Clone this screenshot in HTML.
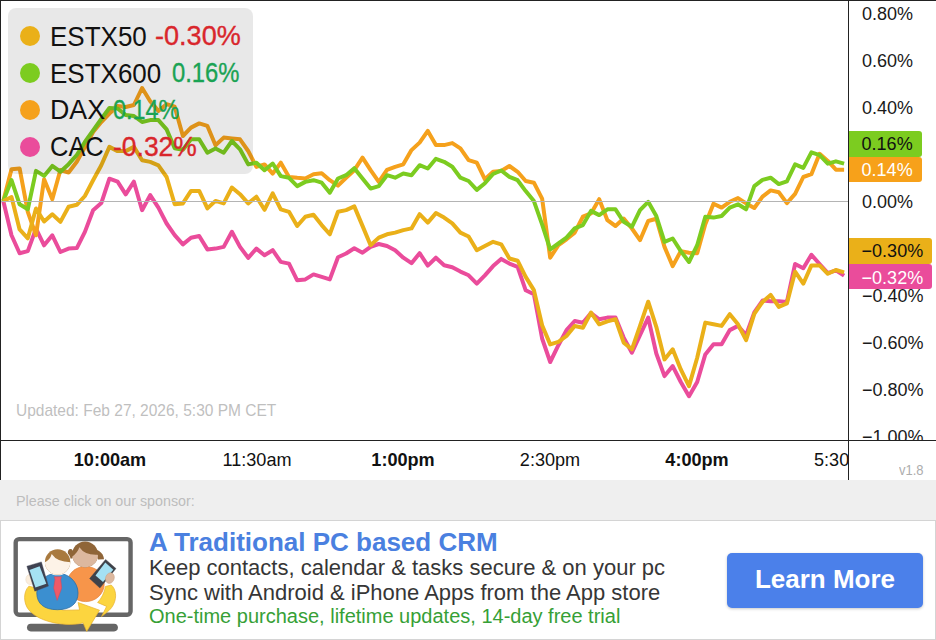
<!DOCTYPE html>
<html>
<head>
<meta charset="utf-8">
<title>European Indices</title>
<style>
html,body{margin:0;padding:0;}
body{width:936px;height:640px;overflow:hidden;background:#efefef;font-family:"Liberation Sans",sans-serif;position:relative;}
#chart{position:absolute;left:0;top:0;width:936px;height:480px;background:#fff;overflow:hidden;}
#chart svg{position:absolute;left:0;top:0;}
.ylab{position:absolute;left:862px;font-size:18px;line-height:20px;height:20px;color:#1a1a1a;white-space:nowrap;}
.tag{position:absolute;left:849px;padding-top:1px;height:25px;line-height:26.6px;font-size:18px;padding-left:12.6px;box-sizing:border-box;border-radius:0 3px 3px 0;white-space:nowrap;}
.xlab{position:absolute;top:450px;font-size:18.1px;line-height:20px;color:#111;white-space:nowrap;transform:translateX(-50%);}
.xlab.b{font-weight:bold;}
#legend{position:absolute;left:8px;top:8px;width:244.6px;height:166px;border-radius:8px;background:rgba(0,0,0,0.09);}
#legend .dot{position:absolute;left:12px;width:20px;height:20px;border-radius:50%;}
#legend .t{position:absolute;transform-origin:0 50%;font-size:27.8px;line-height:30px;color:#111;white-space:nowrap;}
#legend .neg{color:#d9262c;-webkit-text-stroke:0.35px #d9262c;}
#legend .pos{color:#1aa354;-webkit-text-stroke:0.35px #1aa354;}
#upd{position:absolute;left:16px;top:400.9px;font-size:17px;line-height:20px;color:#bfbfbf;white-space:nowrap;transform-origin:0 50%;transform:scaleX(0.912);}
#ver{position:absolute;left:899px;top:461.4px;font-size:15px;line-height:18px;color:#adadad;white-space:nowrap;transform-origin:0 50%;transform:scaleX(0.865);}
#spons{position:absolute;left:16px;top:491.6px;font-size:14.3px;line-height:18px;color:#bdbdbd;white-space:nowrap;}
#ad{position:absolute;left:0;top:520px;width:936px;height:120px;box-sizing:border-box;background:#fff;border:1px solid #d4d4d4;}
#ad .h{position:absolute;left:148px;top:6px;font-size:26px;line-height:30px;font-weight:bold;color:#4a80e0;white-space:nowrap;}
#ad .l{position:absolute;left:148px;font-size:22px;line-height:26px;color:#363636;white-space:nowrap;}
#ad .g{position:absolute;left:148px;top:83px;font-size:20px;line-height:24px;color:#36a036;white-space:nowrap;}
#btn{position:absolute;left:726px;top:32px;width:196px;height:55px;border-radius:5px;background:#4b80ea;color:#fff;font-weight:bold;font-size:26px;line-height:53.6px;text-align:center;box-shadow:0 1px 3px rgba(0,0,0,0.22);}
</style>
</head>
<body>
<div id="chart">
<svg id="plot" width="936" height="480" viewBox="0 0 936 480">
<g fill="none" stroke-width="4" stroke-linejoin="round" stroke-linecap="butt">
<polyline id="l-cac" stroke="#ea4c9b" points="3.3,201.0 11.5,235.3 19.6,253.3 27.8,251.1 36.0,228.6 44.1,245.3 52.3,235.3 60.4,252.0 68.6,248.6 76.8,248.1 84.9,231.9 93.1,210.2 101.3,203.1 109.4,178.7 117.6,181.7 125.7,194.3 133.9,181.7 142.1,210.2 150.2,195.1 158.4,207.6 166.6,223.5 174.7,235.2 182.9,244.4 191.0,237.7 199.2,236.0 207.4,249.4 215.5,248.6 223.7,246.9 231.9,231.8 240.0,246.9 248.2,257.8 256.4,248.6 264.5,255.3 272.7,250.2 280.8,261.9 289.0,263.6 297.2,280.3 305.3,279.4 313.5,274.4 321.7,276.9 329.8,279.4 338.0,257.2 346.1,253.5 354.3,248.2 362.5,252.7 370.6,246.8 378.8,244.0 387.0,246.0 395.1,250.2 403.3,257.7 411.5,263.2 419.6,253.2 427.8,265.6 435.9,257.7 444.1,265.2 452.3,267.2 460.4,271.6 468.6,275.3 476.8,283.6 484.9,275.3 493.1,266.1 501.2,258.9 509.4,263.6 517.6,266.9 525.7,290.3 533.9,294.2 542.1,338.5 550.2,362.0 558.4,345.2 566.5,330.2 574.7,321.0 582.9,322.7 591.0,313.1 599.2,319.3 607.4,317.6 615.5,317.6 623.7,337.6 631.9,352.7 640.0,335.1 648.2,317.6 656.3,353.5 664.5,376.1 672.7,366.1 680.8,382.0 689.0,396.2 697.2,382.0 705.3,354.4 713.5,344.3 721.6,344.3 729.8,330.1 738.0,325.9 746.1,335.1 754.3,312.5 762.5,300.6 770.6,301.3 778.8,301.3 786.9,302.0 795.1,264.0 803.3,268.2 811.4,254.8 819.6,264.0 827.8,273.1 835.9,270.3 844.1,275.7"/>
<polyline id="l-dax" stroke="#f5a11c" points="3.3,201.0 11.5,169.2 19.6,168.4 27.8,211.8 36.0,235.3 44.1,179.2 52.3,199.3 60.4,170.0 68.6,172.5 76.8,161.7 84.9,147.0 93.1,132.0 101.3,122.0 109.4,113.5 117.6,106.0 125.7,107.0 133.9,105.0 142.1,88.0 150.2,101.3 158.4,110.9 166.6,104.2 174.7,106.7 182.9,136.0 191.0,127.6 199.2,123.4 207.4,125.9 215.5,145.2 223.7,137.6 231.9,138.5 240.0,139.3 248.2,151.0 256.4,166.9 264.5,164.4 272.7,173.6 280.8,162.7 289.0,176.9 297.2,177.8 305.3,178.5 313.5,174.3 321.7,173.2 329.8,180.2 338.0,185.6 346.1,177.7 354.3,170.2 362.5,157.6 370.6,170.2 378.8,181.9 387.0,169.8 395.1,166.8 403.3,164.3 411.5,150.1 419.6,142.6 427.8,130.9 435.9,145.1 444.1,145.1 452.3,143.1 460.4,148.4 468.6,160.1 476.8,162.6 484.9,179.3 493.1,171.8 501.2,171.0 509.4,166.0 517.6,171.8 525.7,181.0 533.9,182.7 542.1,198.6 550.2,257.7 558.4,245.2 566.5,239.3 574.7,232.6 582.9,216.7 591.0,213.4 599.2,199.2 607.4,220.2 615.5,226.0 623.7,218.5 631.9,228.5 640.0,240.2 648.2,221.0 656.3,218.8 664.5,246.9 672.7,266.1 680.8,251.1 689.0,252.8 697.2,253.3 705.3,224.3 713.5,203.8 721.6,207.6 729.8,201.8 738.0,198.1 746.1,203.4 754.3,208.0 762.5,196.7 770.6,190.4 778.8,192.2 786.9,203.1 795.1,193.9 803.3,177.0 811.4,174.2 819.6,153.8 827.8,160.9 835.9,169.7 844.1,169.7"/>
<polyline id="l-estx600" stroke="#7ccc20" points="3.3,201.0 11.5,180.1 19.6,204.3 27.8,209.3 36.0,170.9 44.1,175.9 52.3,165.9 60.4,171.7 68.6,164.2 76.8,155.0 84.9,142.0 93.1,130.5 101.3,119.0 109.4,108.0 117.6,108.5 125.7,115.0 133.9,116.0 142.1,122.0 150.2,120.1 158.4,120.1 166.6,129.4 174.7,148.2 182.9,149.7 191.0,139.3 199.2,139.3 207.4,152.7 215.5,148.5 223.7,152.7 231.9,141.0 240.0,149.3 248.2,164.4 256.4,162.7 264.5,170.2 272.7,163.5 280.8,176.1 289.0,177.8 297.2,186.1 305.3,181.9 313.5,180.2 321.7,182.7 329.8,192.7 338.0,178.5 346.1,175.2 354.3,168.2 362.5,178.5 370.6,188.6 378.8,186.1 387.0,175.2 395.1,177.7 403.3,173.5 411.5,175.2 419.6,165.2 427.8,168.5 435.9,158.8 444.1,161.8 452.3,166.8 460.4,177.7 468.6,181.0 476.8,189.9 484.9,183.2 493.1,174.0 501.2,170.5 509.4,176.8 517.6,180.2 525.7,191.1 533.9,201.1 542.1,224.3 550.2,249.3 558.4,243.5 566.5,237.6 574.7,228.4 582.9,225.1 591.0,210.9 599.2,215.1 607.4,209.3 615.5,209.3 623.7,221.8 631.9,226.8 640.0,210.1 648.2,201.8 656.3,216.0 664.5,241.9 672.7,238.5 680.8,251.1 689.0,262.0 697.2,245.2 705.3,216.8 713.5,217.6 721.6,216.0 729.8,207.6 738.0,204.3 746.1,209.3 754.3,186.2 762.5,179.9 770.6,177.7 778.8,184.1 786.9,181.3 795.1,164.4 803.3,167.9 811.4,152.4 819.6,155.2 827.8,163.7 835.9,161.3 844.1,163.7"/>
<polyline id="l-estx50" stroke="#eab019" points="3.3,201.0 11.5,197.1 19.6,229.4 27.8,238.3 36.0,208.5 44.1,221.5 52.3,214.3 60.4,221.9 68.6,206.8 76.8,204.8 84.9,196.0 93.1,180.3 101.3,165.3 109.4,146.9 117.6,151.1 125.7,151.1 133.9,146.9 142.1,160.3 150.2,161.9 158.4,165.3 166.6,177.0 174.7,204.2 182.9,203.4 191.0,190.9 199.2,190.9 207.4,208.4 215.5,200.9 223.7,203.4 231.9,187.5 240.0,194.2 248.2,203.4 256.4,196.7 264.5,209.8 272.7,193.4 280.8,209.3 289.0,211.8 297.2,226.0 305.3,216.7 313.5,214.7 321.7,225.1 329.8,234.3 338.0,211.7 346.1,210.1 354.3,206.4 362.5,225.9 370.6,245.2 378.8,237.6 387.0,234.3 395.1,232.6 403.3,230.1 411.5,228.4 419.6,214.2 427.8,222.6 435.9,213.1 444.1,217.6 452.3,223.4 460.4,232.6 468.6,236.5 476.8,250.2 484.9,246.0 493.1,241.8 501.2,244.3 509.4,258.5 517.6,260.7 525.7,276.9 533.9,290.1 542.1,325.2 550.2,344.4 558.4,341.9 566.5,336.0 574.7,326.0 582.9,327.7 591.0,312.6 599.2,324.3 607.4,321.4 615.5,319.2 623.7,342.7 631.9,349.3 640.0,325.9 648.2,301.7 656.3,326.8 664.5,359.4 672.7,349.3 680.8,369.4 689.0,386.1 697.2,357.7 705.3,322.6 713.5,324.3 721.6,325.9 729.8,314.2 738.0,324.3 746.1,340.2 754.3,313.9 762.5,302.0 770.6,294.9 778.8,306.9 786.9,303.4 795.1,271.7 803.3,283.7 811.4,265.4 819.6,265.4 827.8,273.8 835.9,270.0 844.1,272.4"/>
</g>
<line x1="0" y1="201.5" x2="848" y2="201.5" stroke="#b4b4b4" stroke-width="1"/>
<rect x="849" y="0" width="87" height="440" fill="#fff"/>
<rect x="0" y="441" width="936" height="39" fill="#fff"/>
<line x1="0.5" y1="0" x2="0.5" y2="480" stroke="#222" stroke-width="1"/>
<line x1="0" y1="0.5" x2="936" y2="0.5" stroke="#222" stroke-width="1"/>
<line x1="848.5" y1="0" x2="848.5" y2="480" stroke="#222" stroke-width="1"/>
<line x1="0" y1="440.5" x2="936" y2="440.5" stroke="#222" stroke-width="1"/>
</svg>
<div class="ylab" style="top:4px">0.80%</div>
<div class="ylab" style="top:51px">0.60%</div>
<div class="ylab" style="top:98px">0.40%</div>
<div class="ylab" style="top:192px">0.00%</div>
<div class="ylab" style="top:286px">−0.40%</div>
<div class="ylab" style="top:333px">−0.60%</div>
<div class="ylab" style="top:380px">−0.80%</div>
<div class="ylab" style="top:427px;height:13px;overflow:hidden">−1.00%</div>
<div class="tag" style="top:131px;height:25.5px;line-height:25.9px;width:73px;background:#7ccc20;color:#111">0.16%</div>
<div class="tag" style="top:156.5px;height:25px;line-height:25.5px;width:73px;background:#f7a11a;color:#fff">0.14%</div>
<div class="tag" style="top:238px;height:26px;line-height:25.6px;width:83px;background:#eab019;color:#111">−0.30%</div>
<div class="tag" style="top:264px;height:25.4px;line-height:26.2px;width:83px;background:#ea4c9b;color:#fff">−0.32%</div>
<div class="xlab b" style="left:110px">10:00am</div>
<div class="xlab" style="left:257px">11:30am</div>
<div class="xlab b" style="left:403px">1:00pm</div>
<div class="xlab" style="left:550px">2:30pm</div>
<div class="xlab b" style="left:697px">4:00pm</div>
<div class="xlab" style="left:814px;transform:none;width:34px;overflow:hidden">5:30pm</div>
<div id="upd">Updated: Feb 27, 2026, 5:30 PM CET</div>
<div id="ver">v1.8</div>
<div id="legend">
<div class="dot" style="top:18px;background:#eab019"></div>
<div class="dot" style="top:55px;background:#7ccc20"></div>
<div class="dot" style="top:92px;background:#f5a11c"></div>
<div class="dot" style="top:129px;background:#ea4c9b"></div>
<span class="t" style="left:42px;top:13.6px;transform:scaleX(0.935)">ESTX50</span><span class="t neg" style="left:147px;top:13.4px;transform:scaleX(0.974)">-0.30%</span>
<span class="t" style="left:42px;top:50.6px;transform:scaleX(0.935)">ESTX600</span><span class="t pos" style="left:164px;top:50.4px;transform:scaleX(0.856)">0.16%</span>
<span class="t" style="left:42px;top:87.4px;transform:scaleX(0.963)">DAX</span><span class="t pos" style="left:105.2px;top:87.4px;transform:scaleX(0.842)">0.14%</span>
<span class="t" style="left:42px;top:124.4px;transform:scaleX(0.916)">CAC</span><span class="t neg" style="left:105.4px;top:124.4px;transform:scaleX(0.952)">-0.32%</span>
</div>
</div>
<div id="spons">Please click on our sponsor:</div>
<div id="ad">
<svg id="icon" width="146" height="120" viewBox="0 520 146 120" style="position:absolute;left:-1px;top:-1px">
<defs>
<clipPath id="cm"><circle cx="57.6" cy="561.9" r="12.7"/></clipPath>
<clipPath id="cw"><circle cx="85.1" cy="554.4" r="13"/></clipPath>
</defs>
<rect x="15.7" y="539.1" width="114.85" height="75.65" rx="3.4" fill="#fff" stroke="#666" stroke-width="4.4"/>
<rect x="27" y="623.75" width="90.9" height="7.65" rx="3.8" fill="#666"/>
<path d="M105.4,586.5 L111.2,585 C116,589 116.8,597 114,603.3 C112.5,607 110.1,610.3 101.5,616.6 L106.6,606.4 L97.6,602.5 C101.5,598.6 104.6,592.3 105.4,586.5 Z" fill="#fcd53f" stroke="#e6b02c" stroke-width="0.7" stroke-linejoin="round"/>
<ellipse cx="85.6" cy="584" rx="18.6" ry="17.6" fill="#f7954a" stroke="#e38338" stroke-width="0.7"/>
<ellipse cx="70.5" cy="553.9" rx="2.8" ry="4.8" fill="#8f6538"/>
<path d="M96.4,550 C100,550.5 103.6,554.5 104,559.2 L98,559.4 Z" fill="#8f6538"/>
<g clip-path="url(#cw)">
<rect x="70" y="540" width="32" height="30" fill="#8f6538"/>
<path d="M71.8,557 Q77.5,553 79.4,547.3 Q85,555.5 97.5,554.8 L99,557 L99,570 L70,570 Z" fill="#dcb89f"/>
</g>
<path d="M28.9,586.2 C23,592 23.5,603 28.5,609.5 C35,618 50,623.5 66.5,624.4 C72,624.7 78,624.3 83.1,622.8 L86.7,631.4 L99.5,610.2 L78.1,602.5 L79.6,609.9 L63,610.3 L50,600 L36,588 Z" fill="#fcd53f" stroke="#e6b02c" stroke-width="0.7" stroke-linejoin="round"/>
<path d="M57.4,573.2 C68.8,573.2 78.0,582.1 78.0,593 C78.0,603.7 70.6,609.7 57.4,609.7 C44.2,609.7 36.8,603.7 36.8,593 C36.8,582.1 46.0,573.2 57.4,573.2 Z" fill="#3b8fd0" stroke="#2c6ea6" stroke-width="0.8"/>
<circle cx="57.6" cy="561.9" r="13.4" fill="#fff"/>
<g clip-path="url(#cm)">
<rect x="44" y="548" width="28" height="28" fill="#a97a3e"/>
<path d="M44.4,562.6 Q50.1,560.2 51.7,554.1 Q57.3,562.4 71,562.2 L71,576 L44,576 Z" fill="#fdf3e7"/>
</g>
<path d="M54.2,576.7 L61.5,576.7 L60.7,579.5 L61.7,588 L57.1,600.4 L53.7,588 L55,579.5 Z" fill="#ee5a68" stroke="#d94655" stroke-width="0.5" stroke-linejoin="round"/>
<ellipse cx="30.2" cy="579.4" rx="4.4" ry="5.1" fill="#fbeedd" stroke="#e6d6c2" stroke-width="0.5"/>
<path d="M26.9,566.2 L41.4,561.9 L48.4,586.1 L34.8,591.2 Z" fill="#3e4150" stroke="#3e4150" stroke-width="0.4" stroke-linejoin="round"/>
<path d="M29.5,569.9 L39.6,566.3 L46.3,583.8 L35.4,587.5 Z" fill="#a5e1f3"/>
<path d="M105.6,559.4 L116,568.6 L99.9,588 L89.6,578.6 Z" fill="#3e4249" stroke="#3e4249" stroke-width="0.4" stroke-linejoin="round"/>
<path d="M105.3,562.6 L113.3,569.7 L103,582 L95.5,575.6 Z" fill="#a5e1f3"/>
<ellipse cx="109.9" cy="578.1" rx="4.3" ry="5.4" fill="#dcb89f" stroke="#c9a386" stroke-width="0.5" transform="rotate(20 109.9 578.1)"/>
</svg>
<div class="h">A Traditional PC based CRM</div>
<div class="l" style="top:34.3px">Keep contacts, calendar &amp; tasks secure &amp; on your pc</div>
<div class="l" style="top:59.3px">Sync with Android &amp; iPhone Apps from the App store</div>
<div class="g">One-time purchase, lifetime updates, 14-day free trial</div>
<div id="btn">Learn More</div>
</div>
</body>
</html>
